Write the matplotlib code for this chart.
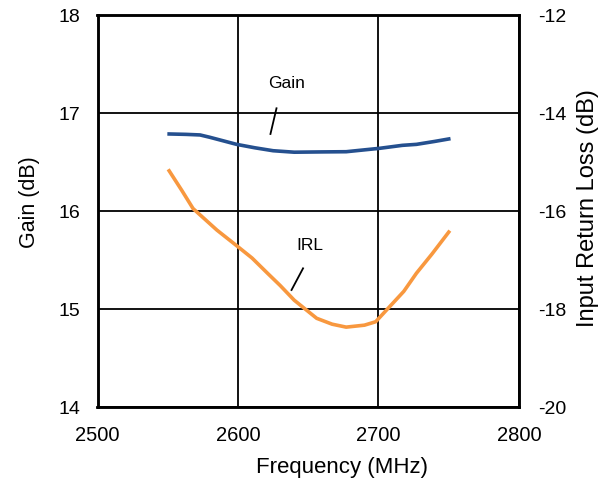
import matplotlib
matplotlib.use("Agg")
import matplotlib.pyplot as plt

plt.rcParams['font.family'] = ['Liberation Sans', 'DejaVu Sans']

freq_gain = [2551, 2563, 2573, 2580, 2599, 2612, 2625, 2640, 2660, 2677, 2701, 2717, 2727, 2740, 2750]
gain_db = [16.786, 16.782, 16.776, 16.752, 16.68, 16.645, 16.615, 16.60, 16.603, 16.605, 16.64, 16.67, 16.68, 16.71, 16.735]

freq_irl = [2551, 2560, 2568, 2585, 2600, 2610, 2621, 2630, 2640, 2656, 2667, 2677, 2690, 2698, 2708, 2718, 2727, 2738, 2750]
irl_db = [-15.18, -15.58, -15.95, -16.39, -16.73, -16.96, -17.27, -17.52, -17.82, -18.19, -18.31, -18.37, -18.33, -18.26, -17.95, -17.64, -17.27, -16.88, -16.43]

x_ticks = [2500, 2600, 2700, 2800]
gain_ticks = [14, 15, 16, 17, 18]
irl_ticks = [-20, -18, -16, -14, -12]

W, H = 609, 491
L, R, T, B = 97.5, 519, 15, 407

fig = plt.figure(figsize=(W / 100, H / 100), dpi=100)
ax = fig.add_axes([L / W, (H - B) / H, (R - L) / W, (B - T) / H])
ax2 = ax.twinx()

ax.set_xlim(2500, 2800)
ax.set_ylim(14, 18)
ax2.set_ylim(-20, -12)
ax.set_xticks(x_ticks)
ax.set_yticks(gain_ticks)
ax2.set_yticks(irl_ticks)
ax2.set_yticklabels(['-20', '-18', '-16', '-14', '-12'])

ax.grid(True, color='black', linewidth=1.3)
ax.set_axisbelow(True)
for a in (ax, ax2):
    for s in a.spines.values():
        s.set_linewidth(1.8)
        s.set_color('black')

ax.tick_params(axis='y', length=0, labelsize=14, pad=12.5)
ax.tick_params(axis='x', length=0, labelsize=14.5, pad=14)
ax2.tick_params(axis='y', length=0, labelsize=14, pad=13.5)

ax.plot(freq_gain, gain_db, color='#25508F', linewidth=2.6, zorder=3)
ax2.plot(freq_irl, irl_db, color='#F8983F', linewidth=2.6, zorder=3)

fig.text(342 / W, 1 - 468 / H, 'Frequency (MHz)', fontsize=16, ha='center', va='center')
fig.text(30 / W, 1 - 202 / H, 'Gain (dB)', fontsize=15.5, ha='center', va='center', rotation=90)
fig.text(588 / W, 1 - 208 / H, 'Input Return Loss (dB)', fontsize=17, ha='center', va='center', rotation=90)

ax.text(2634.7, 17.306, 'Gain', fontsize=12.5, ha='center', va='center')
ax.plot([2623.1, 2627.4], [16.786, 17.048], color='black', linewidth=1.3, zorder=4)
ax.text(2651, 15.653, 'IRL', fontsize=12.5, ha='center', va='center')
ax.plot([2638.1, 2646.3], [15.194, 15.415], color='black', linewidth=1.3, zorder=4)

fig.savefig('out.png', dpi=100)
